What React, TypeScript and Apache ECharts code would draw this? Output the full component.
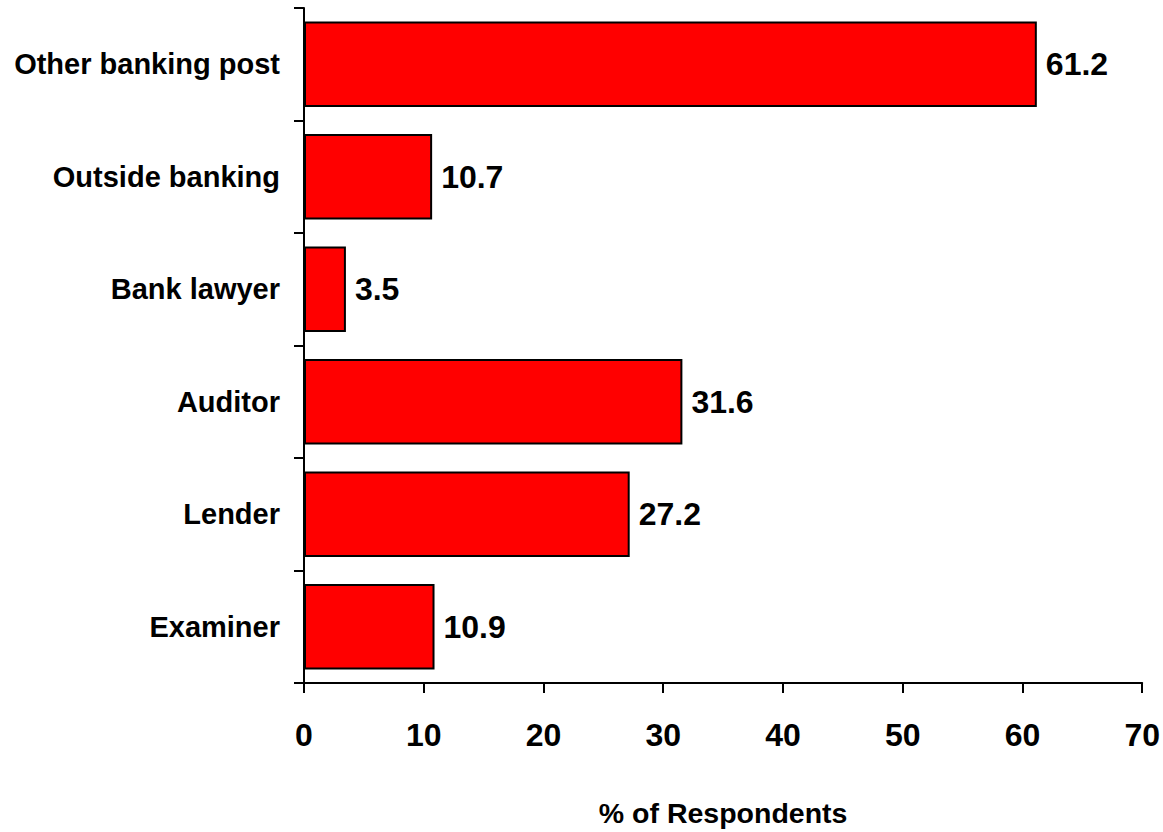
import React, { useEffect, useRef } from "react";
import * as echarts from "echarts";

const categories = ["Examiner", "Lender", "Auditor", "Bank lawyer", "Outside banking", "Other banking post"];
const values = [10.9, 27.2, 31.6, 3.5, 10.7, 61.2];
const xTicks = { min: 0, max: 70, interval: 10 };
const xAxisName = "% of Respondents";

const FONT = "'Liberation Sans Narrow', 'Arial Narrow', 'Liberation Sans', Arial, sans-serif";

export default function App() {
  const ref = useRef<HTMLDivElement>(null);
  useEffect(() => {
    if (!ref.current) return;
    const chart = echarts.init(ref.current, null, { renderer: "svg" });
    chart.setOption({
      animation: false,
      backgroundColor: "#ffffff",
      grid: { left: 304, right: 20, top: 8, bottom: 139, containLabel: false },
      xAxis: {
        type: "value",
        min: xTicks.min,
        max: xTicks.max,
        interval: xTicks.interval,
        name: xAxisName,
        nameLocation: "middle",
        nameGap: 115,
        nameTextStyle: { fontFamily: FONT, fontWeight: "bold", fontSize: 28.5, color: "#000" },
        axisLine: { show: true, lineStyle: { color: "#000", width: 2 } },
        axisTick: { show: true, inside: false, length: 10, lineStyle: { color: "#000", width: 2 } },
        axisLabel: { fontFamily: FONT, fontWeight: "bold", fontSize: 32, color: "#000", margin: 36 },
        splitLine: { show: false },
      },
      yAxis: {
        type: "category",
        data: categories,
        boundaryGap: true,
        axisLine: { show: true, lineStyle: { color: "#000", width: 2 } },
        axisTick: { show: true, inside: false, length: 10, alignWithLabel: false, lineStyle: { color: "#000", width: 2 } },
        axisLabel: { fontFamily: FONT, fontWeight: "bold", fontSize: 29, color: "#000", margin: 24 },
        splitLine: { show: false },
      },
      series: [
        {
          type: "bar",
          data: values,
          barCategoryGap: "24%",
          itemStyle: { color: "#ff0000", borderColor: "#000", borderWidth: 2 },
          label: {
            show: true,
            position: "right",
            distance: 9,
            fontFamily: FONT,
            fontWeight: "bold",
            fontSize: 32,
            color: "#000",
            formatter: (p: any) => p.value.toFixed(1),
          },
        },
      ],
    });
    return () => chart.dispose();
  }, []);
  return <div ref={ref} style={{ width: 1163, height: 832, position: "absolute", left: 0, top: 0 }} />;
}
